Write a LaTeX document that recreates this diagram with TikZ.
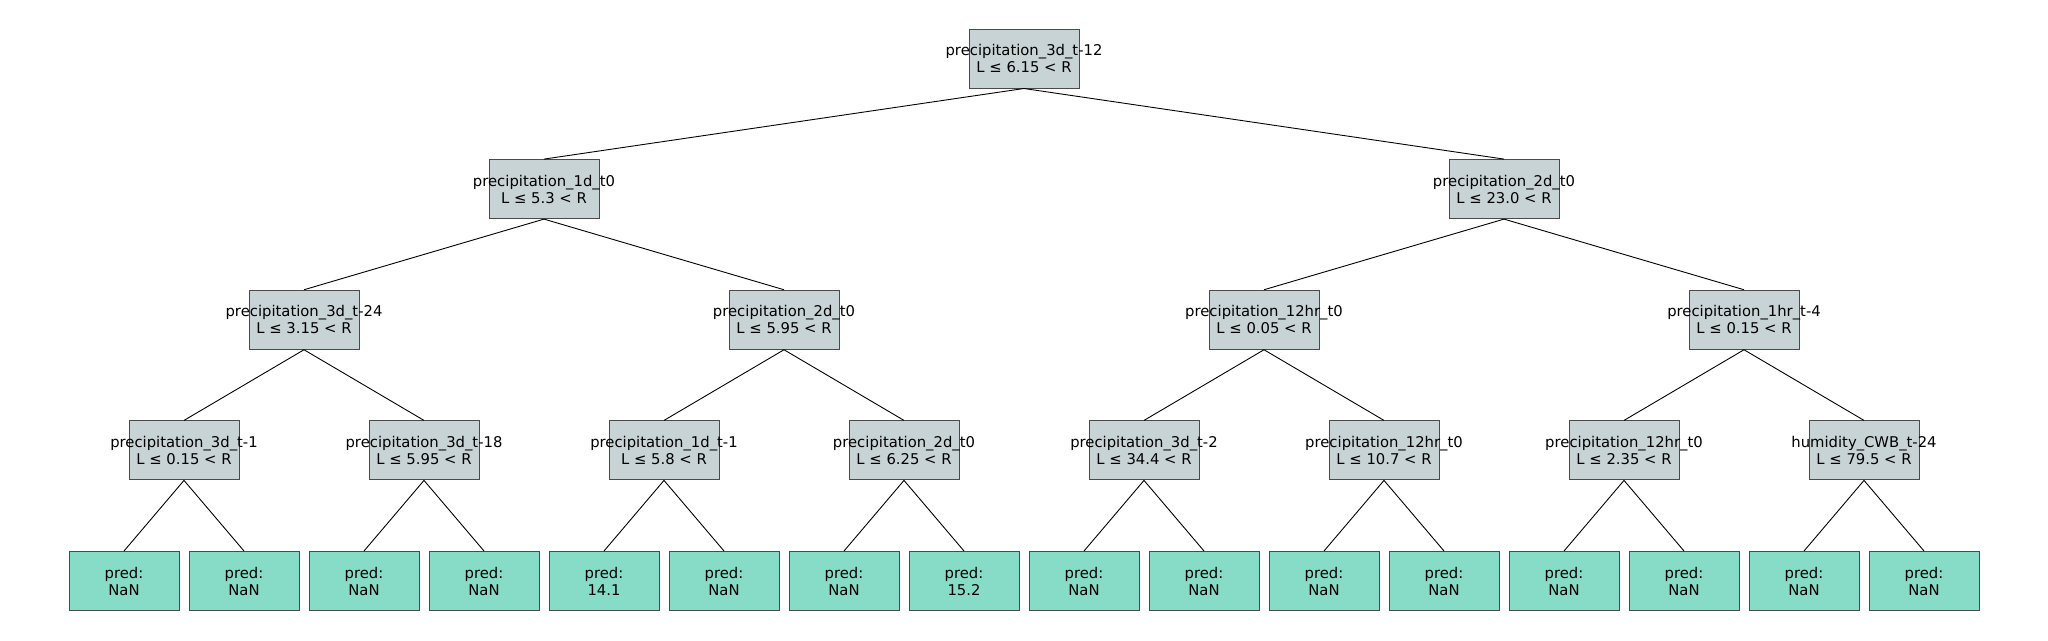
\documentclass[tikz,border=0pt]{standalone}
\usepackage{fontspec}
\setmainfont{DejaVu Sans}
\definecolor{inner}{HTML}{C8D3D5}
\definecolor{leaf}{HTML}{86DCC6}
\definecolor{edgec}{HTML}{4A4A4A}
\newcommand{\cl}[1]{\makebox[0pt]{#1}}
\begin{document}
\begin{tikzpicture}[x=1pt,y=-1pt,
  base/.style={rectangle,draw=edgec,line width=1pt,minimum width=110pt,minimum height=59pt,inner sep=0pt,align=center,font=\fontsize{14.8}{17}\selectfont,text=black},
  ibox/.style={base,fill=inner},
  lbox/.style={base,fill=leaf},
  conn/.style={draw=black,line width=0.9pt}]
\useasboundingbox (0,0) rectangle (2048,640);
% level 0
\node[ibox] (r) at (1024,58.5) {\cl{precipitation\_3d\_t-12}\\\cl{L ≤ 6.15 < R}};
% level 1
\node[ibox] (a) at (544,189.1) {\cl{precipitation\_1d\_t0}\\\cl{L ≤ 5.3 < R}};
\node[ibox] (b) at (1504,189.1) {\cl{precipitation\_2d\_t0}\\\cl{L ≤ 23.0 < R}};
% level 2
\node[ibox] (aa) at (304,319.75) {\cl{precipitation\_3d\_t-24}\\\cl{L ≤ 3.15 < R}};
\node[ibox] (ab) at (784,319.75) {\cl{precipitation\_2d\_t0}\\\cl{L ≤ 5.95 < R}};
\node[ibox] (ba) at (1264,319.75) {\cl{precipitation\_12hr\_t0}\\\cl{L ≤ 0.05 < R}};
\node[ibox] (bb) at (1744,319.75) {\cl{precipitation\_1hr\_t-4}\\\cl{L ≤ 0.15 < R}};
% level 3
\node[ibox] (c1) at (184,450.4) {\cl{precipitation\_3d\_t-1}\\\cl{L ≤ 0.15 < R}};
\node[ibox] (c2) at (424,450.4) {\cl{precipitation\_3d\_t-18}\\\cl{L ≤ 5.95 < R}};
\node[ibox] (c3) at (664,450.4) {\cl{precipitation\_1d\_t-1}\\\cl{L ≤ 5.8 < R}};
\node[ibox] (c4) at (904,450.4) {\cl{precipitation\_2d\_t0}\\\cl{L ≤ 6.25 < R}};
\node[ibox] (c5) at (1144,450.4) {\cl{precipitation\_3d\_t-2}\\\cl{L ≤ 34.4 < R}};
\node[ibox] (c6) at (1384,450.4) {\cl{precipitation\_12hr\_t0}\\\cl{L ≤ 10.7 < R}};
\node[ibox] (c7) at (1624,450.4) {\cl{precipitation\_12hr\_t0}\\\cl{L ≤ 2.35 < R}};
\node[ibox] (c8) at (1864,450.4) {\cl{humidity\_CWB\_t-24}\\\cl{L ≤ 79.5 < R}};
% leaves
\node[lbox] (l1) at (124,581) {pred:\\NaN};
\node[lbox] (l2) at (244,581) {pred:\\NaN};
\node[lbox] (l3) at (364,581) {pred:\\NaN};
\node[lbox] (l4) at (484,581) {pred:\\NaN};
\node[lbox] (l5) at (604,581) {pred:\\14.1};
\node[lbox] (l6) at (724,581) {pred:\\NaN};
\node[lbox] (l7) at (844,581) {pred:\\NaN};
\node[lbox] (l8) at (964,581) {pred:\\15.2};
\node[lbox] (l9) at (1084,581) {pred:\\NaN};
\node[lbox] (l10) at (1204,581) {pred:\\NaN};
\node[lbox] (l11) at (1324,581) {pred:\\NaN};
\node[lbox] (l12) at (1444,581) {pred:\\NaN};
\node[lbox] (l13) at (1564,581) {pred:\\NaN};
\node[lbox] (l14) at (1684,581) {pred:\\NaN};
\node[lbox] (l15) at (1804,581) {pred:\\NaN};
\node[lbox] (l16) at (1924,581) {pred:\\NaN};
% connectors
\draw[conn] (r.south) -- (a.north);
\draw[conn] (r.south) -- (b.north);
\draw[conn] (a.south) -- (aa.north);
\draw[conn] (a.south) -- (ab.north);
\draw[conn] (b.south) -- (ba.north);
\draw[conn] (b.south) -- (bb.north);
\draw[conn] (aa.south) -- (c1.north);
\draw[conn] (aa.south) -- (c2.north);
\draw[conn] (ab.south) -- (c3.north);
\draw[conn] (ab.south) -- (c4.north);
\draw[conn] (ba.south) -- (c5.north);
\draw[conn] (ba.south) -- (c6.north);
\draw[conn] (bb.south) -- (c7.north);
\draw[conn] (bb.south) -- (c8.north);
\draw[conn] (c1.south) -- (l1.north);
\draw[conn] (c1.south) -- (l2.north);
\draw[conn] (c2.south) -- (l3.north);
\draw[conn] (c2.south) -- (l4.north);
\draw[conn] (c3.south) -- (l5.north);
\draw[conn] (c3.south) -- (l6.north);
\draw[conn] (c4.south) -- (l7.north);
\draw[conn] (c4.south) -- (l8.north);
\draw[conn] (c5.south) -- (l9.north);
\draw[conn] (c5.south) -- (l10.north);
\draw[conn] (c6.south) -- (l11.north);
\draw[conn] (c6.south) -- (l12.north);
\draw[conn] (c7.south) -- (l13.north);
\draw[conn] (c7.south) -- (l14.north);
\draw[conn] (c8.south) -- (l15.north);
\draw[conn] (c8.south) -- (l16.north);
\end{tikzpicture}
\end{document}
